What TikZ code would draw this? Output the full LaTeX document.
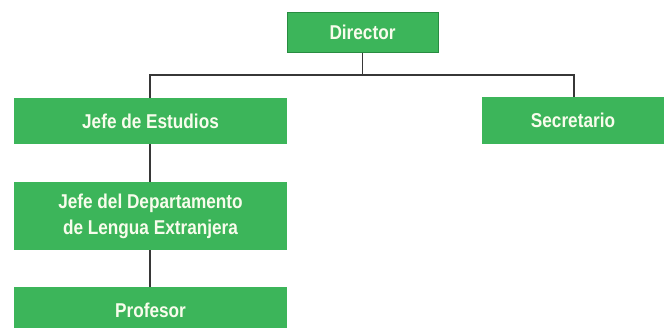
\documentclass[tikz,border=0pt]{standalone}
\usepackage{fontspec}
\setmainfont{Liberation Sans}[FakeStretch=0.86]
\definecolor{boxgreen}{RGB}{60,181,90}
\definecolor{boxedge}{RGB}{40,140,65}
\definecolor{txtc}{RGB}{248,252,236}
\definecolor{linec}{RGB}{55,55,55}
\begin{document}
\begin{tikzpicture}[x=1pt,y=-1pt,
  orgbox/.style={fill=boxgreen,draw=none,inner sep=0pt,text=txtc,
    font=\fontsize{20}{26}\selectfont\bfseries,align=center},
  conn/.style={draw=linec,line width=1.5pt}]
\useasboundingbox (0,0) rectangle (668,327);
\clip (0,0) rectangle (668,327);
\node[orgbox,draw=boxedge,line width=1pt,minimum width=151pt,minimum height=40pt] (dir) at (362.5,32) {Director};
\node[orgbox,minimum width=273pt,minimum height=46pt] (jefe) at (150.5,121) {Jefe de Estudios};
\node[orgbox,minimum width=273pt,minimum height=68pt] (dep) at (150.5,216) {Jefe del Departamento\\de Lengua Extranjera};
\node[orgbox,minimum width=273pt,minimum height=46pt] (prof) at (150.5,310) {Profesor};
\node[orgbox,minimum width=182pt,minimum height=47pt] (sec) at (573,120.5) {Secretario};
\coordinate (bus) at (362.5,75);
\draw[conn] (dir.south) -- (bus);
\draw[conn] ([xshift=-0.5pt]jefe.north) |- (bus) -| ([xshift=1pt]sec.north);
\draw[conn] ([xshift=-0.5pt]jefe.south) -- ([xshift=-0.5pt]dep.north);
\draw[conn] ([xshift=-0.5pt]dep.south) -- ([xshift=-0.5pt]prof.north);
\end{tikzpicture}
\end{document}
